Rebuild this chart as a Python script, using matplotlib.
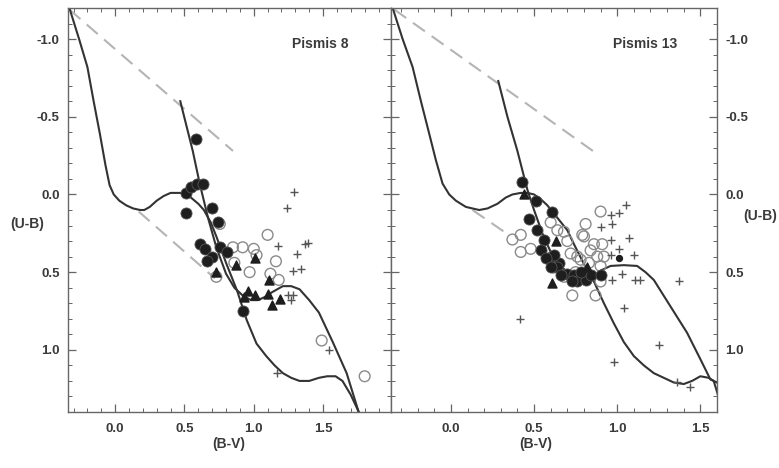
import matplotlib
matplotlib.use("Agg")
import matplotlib.pyplot as plt
from matplotlib.ticker import MultipleLocator

plt.rcParams['font.family'] = ['Liberation Sans', 'DejaVu Sans']
plt.rcParams['axes.unicode_minus'] = False

# ---- Pismis 8 ----
p8_int_x = [-0.33, -0.26, -0.20, -0.155, -0.11, -0.07, -0.04, -0.01, 0.03, 0.08, 0.13, 0.18, 0.21,
            0.25, 0.30, 0.35, 0.40, 0.47, 0.52, 0.56, 0.60, 0.64, 0.69, 0.73, 0.80, 0.88, 0.95,
            1.02, 1.09, 1.15, 1.21, 1.27, 1.33, 1.40, 1.47, 1.53, 1.59, 1.64, 1.70, 1.755]
p8_int_y = [-1.20, -1.00, -0.82, -0.60, -0.39, -0.19, -0.06, 0.00, 0.04, 0.07, 0.09, 0.10, 0.10,
            0.08, 0.04, 0.01, -0.01, -0.01, 0.00, 0.03, 0.06, 0.10, 0.18, 0.27, 0.44, 0.62, 0.81,
            0.96, 1.04, 1.10, 1.15, 1.18, 1.20, 1.20, 1.18, 1.17, 1.17, 1.20, 1.29, 1.395]
p8_red_x = [0.47, 0.56, 0.61, 0.67, 0.73, 0.80, 0.86, 0.92, 0.98, 1.03, 1.08, 1.13, 1.21, 1.27,
            1.33, 1.40, 1.47, 1.57, 1.67, 1.755]
p8_red_y = [-0.60, -0.28, -0.07, 0.15, 0.34, 0.51, 0.60, 0.65, 0.68, 0.68, 0.66, 0.63, 0.59, 0.59,
            0.61, 0.68, 0.76, 0.95, 1.15, 1.395]
p8_dash1 = ([-0.33, 0.85], [-1.19, -0.28])
p8_dash2 = ([0.17, 0.72], [0.11, 0.54])

p8_fill_x = [0.58, 0.51, 0.55, 0.59, 0.635, 0.51, 0.70, 0.74, 0.61, 0.65, 0.70, 0.755, 0.81, 0.66, 0.92]
p8_fill_y = [-0.36, -0.01, -0.05, -0.07, -0.07, 0.12, 0.09, 0.18, 0.32, 0.35, 0.40, 0.34, 0.37, 0.43, 0.75]
p8_open_x = [0.85, 0.92, 1.00, 1.02, 1.10, 1.16, 0.86, 0.97, 1.12, 1.18, 0.73, 1.49, 1.80, 0.755]
p8_open_y = [0.34, 0.34, 0.35, 0.39, 0.26, 0.43, 0.44, 0.50, 0.51, 0.55, 0.53, 0.94, 1.17, 0.19]
p8_tri_x = [1.01, 0.875, 0.73, 0.96, 1.01, 1.11, 1.10, 1.19, 1.13, 0.93]
p8_tri_y = [0.41, 0.455, 0.50, 0.62, 0.65, 0.55, 0.64, 0.67, 0.71, 0.66]
p8_plus_x = [1.29, 1.24, 1.175, 1.37, 1.39, 1.31, 1.28, 1.34, 1.25, 1.28, 1.27, 1.54, 1.17]
p8_plus_y = [-0.015, 0.085, 0.33, 0.32, 0.31, 0.38, 0.49, 0.48, 0.65, 0.65, 0.68, 1.00, 1.15]

# ---- Pismis 13 ----
p13_int_x = [-0.35, -0.29, -0.23, -0.18, -0.13, -0.09, -0.05, -0.01, 0.03, 0.09, 0.17, 0.22, 0.28,
             0.33, 0.37, 0.42, 0.46, 0.50, 0.54, 0.58, 0.64, 0.70, 0.74, 0.82, 0.86, 0.92, 0.98,
             1.04, 1.10, 1.16, 1.22, 1.28, 1.34, 1.40, 1.45, 1.50, 1.55, 1.58, 1.62]
p13_int_y = [-1.20, -1.00, -0.82, -0.60, -0.39, -0.22, -0.07, 0.00, 0.04, 0.08, 0.10, 0.09, 0.06,
             0.02, 0.00, -0.01, -0.01, 0.00, 0.03, 0.07, 0.15, 0.23, 0.32, 0.49, 0.56, 0.70, 0.83,
             0.95, 1.04, 1.10, 1.15, 1.18, 1.21, 1.22, 1.20, 1.17, 1.18, 1.20, 1.34]
p13_red_x = [0.285, 0.34, 0.40, 0.46, 0.50, 0.55, 0.60, 0.66, 0.72, 0.79, 0.85, 0.90, 0.96, 1.04,
             1.12, 1.17, 1.22, 1.32, 1.42, 1.50, 1.56, 1.60, 1.62]
p13_red_y = [-0.73, -0.50, -0.28, -0.03, 0.10, 0.25, 0.37, 0.46, 0.52, 0.55, 0.53, 0.49, 0.46, 0.455,
             0.46, 0.50, 0.55, 0.72, 0.89, 1.06, 1.19, 1.21, 1.24]
p13_dash1 = ([-0.34, 0.88], [-1.19, -0.26])
p13_dash2 = ([0.13, 0.32], [0.10, 0.24])

p13_fill_x = [0.43, 0.51, 0.61, 0.47, 0.52, 0.56, 0.54, 0.60, 0.65, 0.70, 0.74, 0.76, 0.81, 0.84,
              0.90, 0.62, 0.57, 0.64, 0.60, 0.66, 0.73, 0.78]
p13_fill_y = [-0.08, 0.04, 0.11, 0.16, 0.23, 0.29, 0.36, 0.40, 0.44, 0.51, 0.52, 0.56, 0.55, 0.52,
              0.52, 0.39, 0.41, 0.47, 0.47, 0.52, 0.56, 0.50]
p13_dot_x = [1.01]
p13_dot_y = [0.41]
p13_open_x = [0.37, 0.42, 0.42, 0.48, 0.60, 0.64, 0.68, 0.70, 0.81, 0.90, 0.79, 0.80, 0.86, 0.91,
              0.84, 0.72, 0.76, 0.83, 0.90, 0.92, 0.90, 0.73, 0.87, 0.68, 0.62, 0.75, 0.78, 0.88]
p13_open_y = [0.29, 0.26, 0.37, 0.35, 0.18, 0.23, 0.24, 0.30, 0.19, 0.11, 0.26, 0.27, 0.32, 0.32,
              0.36, 0.38, 0.40, 0.44, 0.46, 0.40, 0.56, 0.65, 0.65, 0.53, 0.47, 0.50, 0.42, 0.40]
p13_tri_x = [0.44, 0.63, 0.61, 0.82]
p13_tri_y = [0.00, 0.30, 0.57, 0.47]
p13_plus_x = [1.05, 0.96, 1.01, 0.90, 0.97, 1.07, 0.96, 1.01, 1.10, 0.96, 1.03, 0.97, 1.11, 1.14,
              1.37, 1.04, 1.25, 0.98, 1.36, 1.44, 0.415]
p13_plus_y = [0.07, 0.13, 0.12, 0.21, 0.19, 0.28, 0.29, 0.35, 0.39, 0.39, 0.51, 0.55, 0.55, 0.55,
              0.56, 0.73, 0.97, 1.08, 1.21, 1.24, 0.80]

W, H = 779, 468
fig = plt.figure(figsize=(W / 100, H / 100), dpi=100)
frame_col = '#666666'
text_col = '#3a3a3a'
line_col = '#333333'


def make_panel(rect, xlim, name, curves, dashes, fill, opn, tri, plus, dots=None, right=False):
    ax = fig.add_axes(rect)
    ax.set_xlim(*xlim)
    ax.set_ylim(1.40, -1.20)
    for (cx, cy) in curves:
        ax.plot(cx, cy, color=line_col, lw=1.5, zorder=2)
    for (dx, dy) in dashes:
        ax.plot(dx, dy, color='#b4b4b4', lw=1.5, dashes=(7, 4), zorder=1)
    ax.scatter(opn[0], opn[1], s=60, facecolors='none', edgecolors='#8a8a8a', linewidths=1.0, zorder=3)
    ax.scatter(fill[0], fill[1], s=64, color='#1e1e1e', edgecolors='#555555', linewidths=0.6, zorder=4)
    ax.scatter(tri[0], tri[1], s=42, marker='^', color='#1e1e1e', zorder=4)
    ax.scatter(plus[0], plus[1], s=28, marker='+', color='#555555', linewidths=1.0, zorder=4)
    if dots is not None:
        ax.scatter(dots[0], dots[1], s=18, color='#1e1e1e', zorder=4)

    ax.xaxis.set_major_locator(MultipleLocator(0.5))
    ax.xaxis.set_minor_locator(MultipleLocator(0.1))
    ax.yaxis.set_major_locator(MultipleLocator(0.5))
    ax.yaxis.set_minor_locator(MultipleLocator(0.1))
    ax.tick_params(which='both', direction='in', top=True, right=True, left=True, bottom=True,
                   color=frame_col, labelcolor=text_col, labelsize=9.5)
    ax.tick_params(which='major', length=6, width=0.9)
    ax.tick_params(which='minor', length=3, width=0.7)
    ax.tick_params(axis='x', pad=8)
    ax.tick_params(axis='y', pad=6)
    if right:
        ax.tick_params(axis='y', labelleft=False, labelright=True)
    for lab in ax.get_xticklabels() + ax.get_yticklabels():
        lab.set_fontweight('bold')
    for sp in ax.spines.values():
        sp.set_color(frame_col)
        sp.set_linewidth(1.0)
    ax.text(0.78, 0.91, name, transform=ax.transAxes, ha='center', va='center',
            fontsize=10, fontweight='bold', color=text_col)
    return ax


ax1 = make_panel([68 / W, 1 - 412 / H, 323 / W, 404 / H], (-0.34, 1.99), 'Pismis 8',
                 [(p8_int_x, p8_int_y), (p8_red_x, p8_red_y)], [p8_dash1, p8_dash2],
                 (p8_fill_x, p8_fill_y), (p8_open_x, p8_open_y), (p8_tri_x, p8_tri_y),
                 (p8_plus_x, p8_plus_y))
ax2 = make_panel([391 / W, 1 - 412 / H, 326 / W, 404 / H], (-0.36, 1.60), 'Pismis 13',
                 [(p13_int_x, p13_int_y), (p13_red_x, p13_red_y)], [p13_dash1, p13_dash2],
                 (p13_fill_x, p13_fill_y), (p13_open_x, p13_open_y), (p13_tri_x, p13_tri_y),
                 (p13_plus_x, p13_plus_y), dots=(p13_dot_x, p13_dot_y), right=True)

fig.text(27 / W, 1 - 224 / H, '(U-B)', ha='center', va='center', fontsize=10,
         fontweight='bold', color=text_col)
fig.text(760 / W, 1 - 216 / H, '(U-B)', ha='center', va='center', fontsize=10,
         fontweight='bold', color=text_col)
fig.text(229 / W, 1 - 444 / H, '(B-V)', ha='center', va='center', fontsize=10,
         fontweight='bold', color=text_col)
fig.text(536 / W, 1 - 444 / H, '(B-V)', ha='center', va='center', fontsize=10,
         fontweight='bold', color=text_col)

fig.savefig('out.png', dpi=100)
